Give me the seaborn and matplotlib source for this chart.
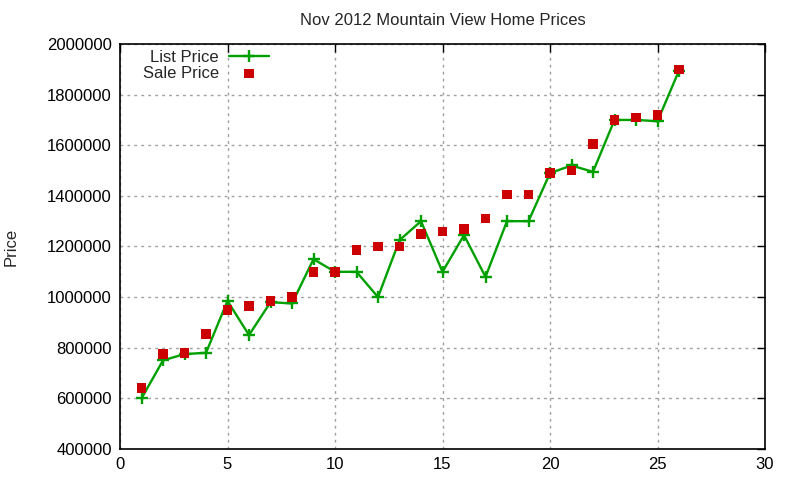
import numpy as np
import pandas as pd
import matplotlib
matplotlib.use("Agg")
import matplotlib.pyplot as plt
import seaborn as sns

# listing index 1..26
homes = list(range(1, 27))
list_price = [600000, 750000, 775000, 780000, 985000, 850000, 980000, 975000,
              1150000, 1100000, 1100000, 1000000, 1225000, 1300000, 1100000,
              1245000, 1080000, 1300000, 1300000, 1490000, 1520000, 1495000,
              1700000, 1700000, 1695000, 1895000]
sale_price = [640000, 775000, 780000, 855000, 950000, 965000, 985000, 1000000,
              1100000, 1100000, 1185000, 1200000, 1200000, 1250000, 1260000,
              1270000, 1310000, 1405000, 1405000, 1490000, 1500000, 1605000,
              1700000, 1710000, 1720000, 1900000]

df = pd.DataFrame({"home": homes, "list": list_price, "sale": sale_price})

sns.set_style("white")
plt.rcParams['font.family'] = ['Liberation Sans', 'DejaVu Sans']

green = "#00a000"
red = "#cc0000"

fig = plt.figure(figsize=(8, 4.8), dpi=100)
ax = fig.add_axes([120/800, 1 - 449/480, 645/800, 405/480])

sns.lineplot(data=df, x="home", y="list", ax=ax, color=green, lw=1.7,
             marker="+", markersize=9, markeredgewidth=1.7,
             markeredgecolor=green, label="List Price")
sns.scatterplot(data=df, x="home", y="sale", ax=ax, color=red,
                marker="s", s=48, edgecolor="none", label="Sale Price", zorder=3)

ax.set_xlim(0, 30)
ax.set_ylim(400000, 2000000)
ax.set_xticks(range(0, 31, 5))
ax.set_yticks(range(400000, 2000001, 200000))
ax.ticklabel_format(style="plain", axis="y", useOffset=False)
ax.grid(True, color="#a0a0a0", linestyle=(0, (2, 3)), lw=1)
ax.tick_params(direction="in", length=6, width=1, top=True, right=True,
               labelsize=12, colors="black", pad=6)
for s in ax.spines.values():
    s.set_color("black")
    s.set_linewidth(1.2)

ax.set_xlabel("")
ax.set_ylabel("Price", fontsize=12, labelpad=20)
ax.set_title("Nov 2012 Mountain View Home Prices", fontsize=12, pad=14)

ax.legend(loc="upper left", markerfirst=False, frameon=False, fontsize=12,
          handlelength=2.4, borderaxespad=0.2, handletextpad=0.6,
          labelspacing=0.05, bbox_to_anchor=(0.02, 1.01))

fig.savefig("out.png", dpi=100)
